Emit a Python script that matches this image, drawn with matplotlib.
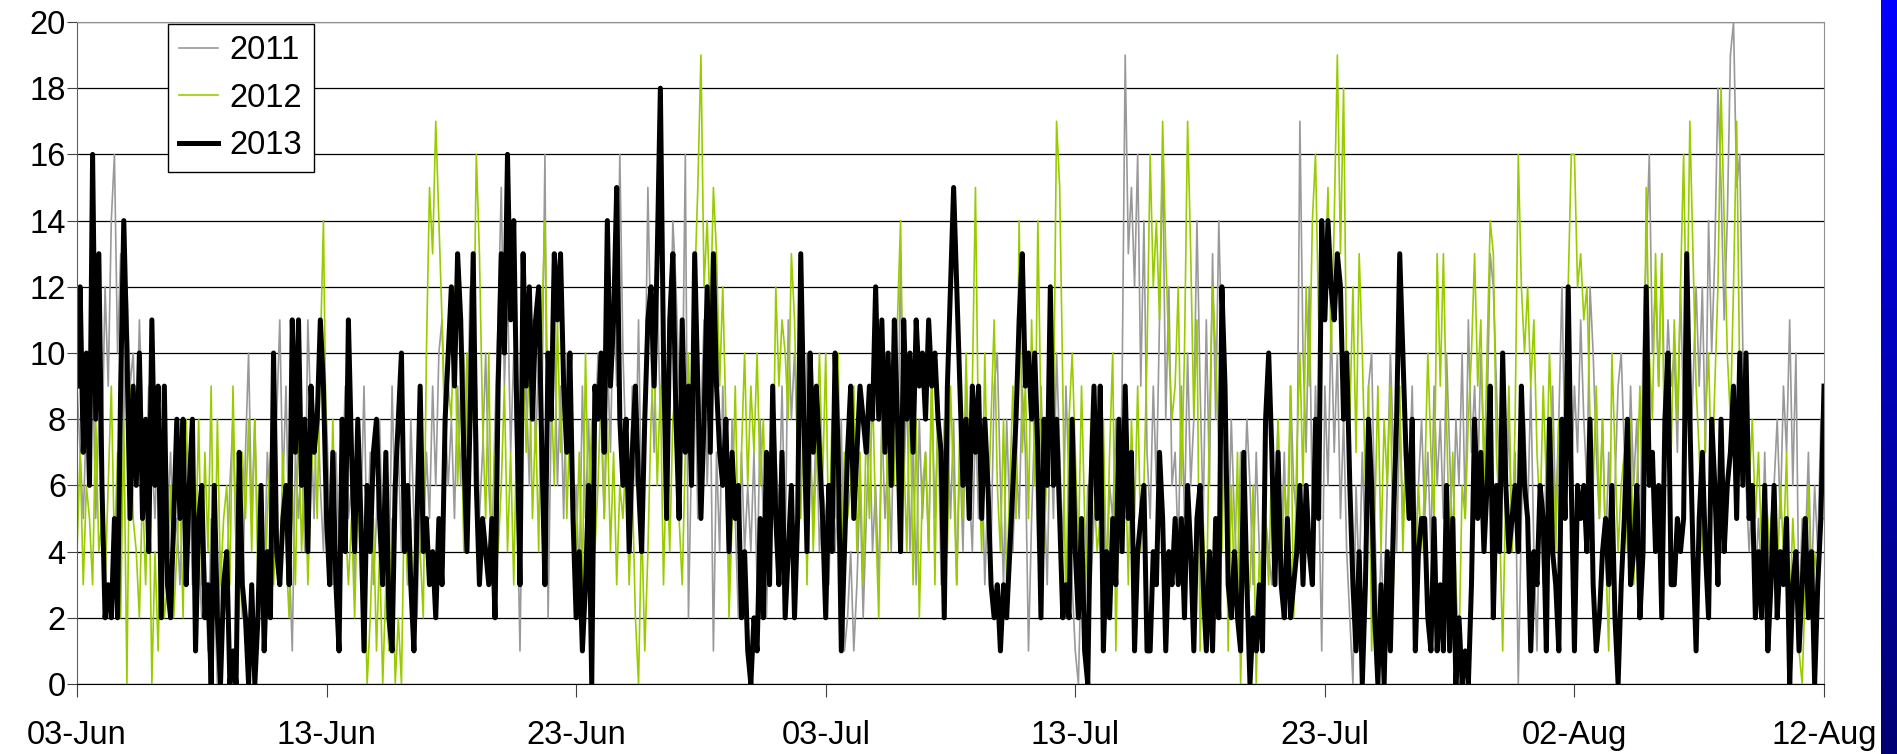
import numpy as np
import pandas as pd
import matplotlib.pyplot as plt
import matplotlib.dates as mdates

plt.rcParams['font.family'] = ['Liberation Sans', 'DejaVu Sans']

# 3-hourly readings, one row per day starting 03-Jun (8 values/day), last value = 12-Aug 00:00
y2011 = [
    9,7,5,8,6,10,5,8,  7,12,9,14,16,10,13,8,  12,9,10,7,11,8,6,9,  7,5,8,4,6,5,7,4,
    5,3,6,4,7,3,5,4,  2,4,1,5,3,0,4,2,  3,6,8,4,5,2,7,10,  5,8,4,6,3,7,5,9,
    8,11,6,9,4,1,7,5,  7,4,11,8,5,9,6,4,  8,5,3,7,4,6,9,5,  6,3,8,5,9,4,7,3,
    5,8,4,6,3,9,5,7,  4,6,3,8,5,2,6,4,  7,5,9,6,10,11,8,6,  8,5,9,6,10,7,12,8,
    9,5,7,10,6,4,8,11,  15,9,12,7,10,6,1,8,  9,6,11,7,10,8,16,2,  8,11,6,9,5,10,7,4,
    6,3,9,5,8,4,7,10,  8,5,10,7,12,9,16,10,  7,4,9,6,11,5,8,15,  10,7,12,8,11,6,9,14,
    12,9,8,16,2,7,10,5,  8,11,6,9,1,7,4,9,  6,3,8,5,2,7,4,6,  4,7,3,8,5,2,6,9,
    7,5,9,4,11,8,10,7,  9,6,10,7,5,8,4,6,  5,3,7,4,6,8,1,2,  4,1,3,6,2,5,8,4,
    6,3,8,5,7,4,9,6,  13,6,9,4,7,3,8,5,  7,4,9,5,8,3,6,8,  5,8,3,7,4,9,6,4,
    8,5,7,3,6,4,9,10,  6,3,8,5,4,7,5,9,  7,1,5,8,4,9,6,3,  8,5,10,7,4,9,6,3,
    1,0,4,2,6,3,5,7,  4,7,3,6,5,8,4,9,  19,13,15,12,16,9,14,7,  5,9,6,11,16,8,12,6,
    7,4,9,5,10,6,8,14,  9,5,11,6,13,8,14,10,  6,4,8,5,3,7,5,8,  6,3,7,4,2,5,4,3,
    5,8,4,7,3,9,6,5,  17,10,7,12,5,9,6,1,  9,6,11,7,10,5,8,4,  2,0,6,3,7,4,9,10,
    5,1,4,2,6,10,7,4,  8,5,7,6,9,4,6,8,  5,7,4,9,6,8,5,10,  7,4,8,6,10,5,11,7,
    9,6,10,7,8,13,12,9,  6,9,5,8,4,7,0,5,  8,5,9,4,1,6,3,7,  6,9,5,8,12,7,10,6,
    9,7,11,8,6,12,10,7,  5,8,4,7,3,6,9,10,  7,5,9,6,8,4,10,13,  16,10,12,9,13,8,11,9,
    10,7,12,8,11,6,9,12,  9,12,7,14,10,13,18,15,  11,14,19,20,15,16,10,6,  4,6,3,5,3,7,3,5,
    6,8,5,9,7,11,6,10,  2,5,4,7,3,6,4,8,
    6,
]

y2012 = [
    4,7,3,6,5,3,8,4,  5,3,6,9,4,7,2,8,  0,9,5,4,2,6,3,7,  0,4,1,5,2,3,6,2,
    4,6,2,8,5,7,4,8,  3,7,4,9,2,8,3,5,  6,3,9,4,2,7,5,8,  4,8,3,6,2,5,7,3,
    5,3,7,4,2,6,3,8,  4,7,3,6,8,5,10,14,  6,3,8,4,2,7,5,3,  5,2,6,3,4,0,2,5,
    1,4,0,3,1,5,0,2,  0,6,3,5,1,7,4,2,  10,15,13,17,14,11,7,9,  8,12,6,9,4,10,7,9,
    16,13,8,5,10,3,7,4,  6,9,4,7,3,8,5,10,  7,10,5,8,4,11,14,8,  9,6,11,7,10,5,8,6,
    4,7,3,10,5,8,4,6,  9,5,8,4,7,3,6,5,  7,3,6,2,0,5,1,4,  8,10,6,9,3,7,4,8,
    9,5,3,7,10,6,12,15,  19,12,14,11,15,13,9,12,  8,2,5,9,4,7,10,6,  9,7,10,6,8,4,7,5,
    12,9,11,10,8,13,11,7,  5,9,3,8,4,7,10,6,  10,4,8,5,10,3,7,5,  6,9,4,7,3,8,5,9,
    5,2,8,10,4,9,6,11,  14,7,4,9,3,8,2,6,  7,4,10,3,9,5,8,4,  9,6,3,8,5,10,6,9,
    15,7,4,10,5,8,11,6,  4,8,3,6,9,5,14,7,  9,5,11,6,14,8,4,7,  10,8,17,15,9,2,8,10,
    7,4,9,5,3,8,6,4,  5,8,3,7,10,1,6,4,  7,3,8,5,9,4,6,10,  16,12,14,11,17,13,10,8,
    9,12,6,10,17,13,8,11,  1,5,2,8,12,10,7,4,  9,1,6,3,7,0,4,2,  3,6,0,4,2,5,3,7,
    4,8,3,6,5,9,2,7,  10,6,12,9,14,16,11,13,  12,15,10,14,19,13,18,9,  8,12,7,13,10,6,9,1,
    5,9,4,8,6,9,3,7,  9,4,7,5,8,3,6,4,  6,10,7,5,13,9,13,8,  4,7,3,1,6,5,8,10,
    13,9,11,6,10,14,13,7,  5,1,6,9,4,8,16,12,  10,12,9,11,7,5,9,6,  10,7,4,8,5,9,12,16,
    16,12,13,11,12,8,6,9,  5,8,4,1,10,7,4,6,  7,4,8,3,6,9,5,15,  10,8,13,9,13,6,10,7,
    11,8,12,16,10,17,13,9,  7,4,8,10,6,9,12,18,  14,10,8,12,17,9,6,7,  6,8,5,7,4,6,5,3,
    5,3,6,4,7,2,5,3,  1,0,3,6,2,4,3,5,
    5,
]

y2013 = [
    9,12,7,10,6,16,8,13,  6,2,3,2,5,2,9,14,  10,5,9,6,10,5,8,4,  11,6,9,2,9,3,2,5,
    8,5,8,3,6,8,1,5,  6,2,3,0,6,2,0,3,  4,0,1,0,7,3,2,0,  3,0,2,6,1,4,2,10,
    4,3,5,6,3,11,7,11,  6,8,4,9,7,8,11,9,  5,3,7,3,1,8,4,11,  7,4,8,5,1,6,4,7,
    8,5,3,7,2,1,6,8,  10,4,6,3,1,5,9,4,  5,3,4,2,5,3,8,10,  12,9,13,11,7,4,8,13,
    6,3,5,4,3,5,2,9,  13,10,16,11,14,8,3,13,  9,12,8,11,12,7,3,10,  8,13,11,13,9,7,10,5,
    2,4,1,3,6,0,9,8,  10,7,14,9,11,15,8,6,  8,4,7,9,6,4,8,11,  12,9,13,18,10,5,11,13,
    8,5,11,7,9,6,13,9,  5,8,12,7,13,9,7,6,  8,4,7,5,6,2,4,1,  0,2,1,5,2,7,3,9,
    5,3,7,2,4,6,2,5,  13,8,4,10,7,9,7,5,  2,6,4,10,7,1,4,7,  9,5,7,9,8,7,9,8,
    12,8,11,7,10,6,11,8,  4,11,8,10,7,11,9,10,  8,11,9,10,8,7,2,9,  12,15,12,9,6,8,5,9,
    7,9,5,8,6,3,2,3,  1,3,2,4,6,8,11,13,  9,10,8,10,7,2,8,6,  12,6,8,5,2,3,2,8,
    4,2,5,1,0,6,9,5,  9,1,4,2,5,3,8,4,  9,5,7,1,4,5,6,1,  1,4,3,7,5,1,4,3,
    5,3,5,2,6,4,1,5,  6,3,1,4,1,5,2,12,  9,3,2,4,2,1,7,3,  0,2,1,3,1,8,10,7,
    3,7,3,2,5,2,3,4,  6,3,6,4,3,8,5,14,  11,14,12,11,13,12,8,10,  6,3,1,4,0,3,8,6,
    2,0,3,0,4,1,5,8,  13,10,7,5,8,1,4,5,  5,2,1,5,1,3,1,6,  1,5,0,2,0,1,0,3,
    8,5,7,4,6,9,2,6,  4,10,6,4,5,6,4,9,  6,5,1,4,3,6,5,1,  8,4,3,1,8,5,12,6,
    1,6,5,6,4,8,3,1,  2,4,5,3,6,2,0,3,  5,8,3,4,6,2,4,12,  6,7,4,6,2,8,10,3,
    3,5,4,5,13,8,4,1,  5,7,4,2,8,6,3,8,  4,6,7,9,5,10,6,10,  5,6,2,4,2,6,1,3,
    6,2,4,3,5,0,3,4,  1,3,5,2,4,0,3,5,
    9,
]

series_labels = ['2011', '2012', '2013']
series_colors = ['#999999', '#99cc00', '#000000']
series_widths = [1.2, 1.2, 3.6]

times = pd.date_range('2013-06-03', periods=len(y2013), freq='3h')
tick_dates = pd.date_range('2013-06-03', '2013-08-12', freq='10D')

fig = plt.figure(figsize=(18.97, 7.54), dpi=100)
ax = fig.add_axes([77/1897, 70/754, 1747/1897, 662/754])

for vals, lab, col, lw in zip([y2011, y2012, y2013], series_labels, series_colors, series_widths):
    ax.plot(times, vals, color=col, lw=lw, label=lab, solid_joinstyle='round')

ax.set_xlim(times[0], times[-1])
ax.set_ylim(0, 20)
ax.set_yticks(range(0, 21, 2))
ax.set_xticks(tick_dates)
ax.xaxis.set_major_formatter(mdates.DateFormatter('%d-%b'))
ax.tick_params(axis='both', labelsize=23.5, direction='out', color='#404040')
ax.tick_params(axis='x', length=9, pad=17)
ax.tick_params(axis='y', length=7, pad=1)

ax.set_axisbelow(True)
ax.yaxis.grid(True, color='#000000', lw=0.9)
for side in ['top', 'right']:
    ax.spines[side].set_color('#909090')
ax.spines['left'].set_color('#606060')
ax.spines['bottom'].set_color('#000000')

leg = ax.legend(loc='upper left', bbox_to_anchor=(0.052, 0.997), borderaxespad=0,
                fontsize=23.5, frameon=True, fancybox=False, framealpha=1,
                handlelength=1.2, handletextpad=0.35, labelspacing=0.5, borderpad=0.35)
leg.get_frame().set_edgecolor('#000000')
leg.get_frame().set_linewidth(1.0)

# blue slide strip on the right edge
bar = fig.add_axes([1881/1897, 0, 16/1897, 1])
grad = np.linspace(1.0, 0.45, 256).reshape(-1, 1)
rgb = np.zeros((256, 1, 3))
rgb[:, :, 2] = grad
bar.imshow(rgb, aspect='auto')
bar.set_axis_off()

fig.savefig('out.png', dpi=100)
